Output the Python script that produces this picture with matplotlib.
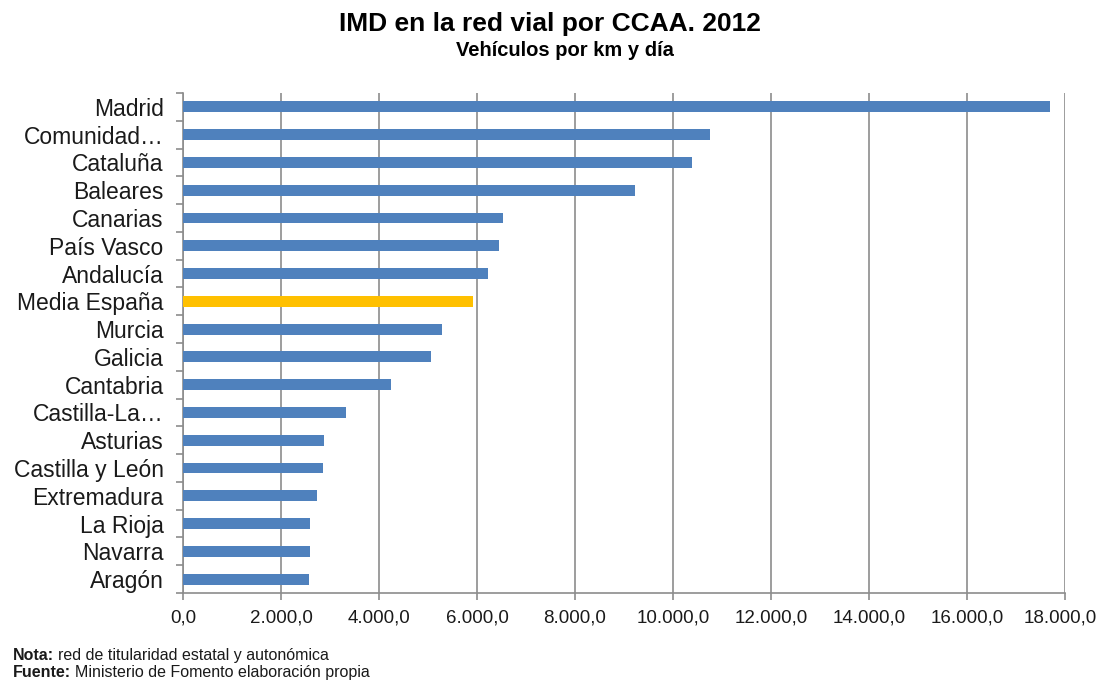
import matplotlib.pyplot as plt
import matplotlib.transforms as mtransforms
from matplotlib.ticker import FuncFormatter, FixedLocator

plt.rcParams['font.family'] = ['Liberation Sans', 'DejaVu Sans']

regiones = ["Madrid", "Comunidad…", "Cataluña", "Baleares", "Canarias",
            "País Vasco", "Andalucía", "Media España", "Murcia", "Galicia",
            "Cantabria", "Castilla-La…", "Asturias", "Castilla y León",
            "Extremadura", "La Rioja", "Navarra", "Aragón"]
imd = [17690, 10745, 10385, 9215, 6525, 6445, 6230, 5910, 5285, 5060,
       4235, 3330, 2885, 2852, 2742, 2598, 2598, 2565]

azul = "#4F81BD"
amarillo = "#FFC000"
gris = "#8C8C8C"

colores = [amarillo if r == "Media España" else azul for r in regiones]

fig = plt.figure(figsize=(10.99, 6.83), dpi=100)
ax = fig.add_axes([183 / 1099, 90 / 683, 882 / 1099, 500 / 683])

pos = list(range(len(regiones)))
ax.barh(pos, imd, height=0.39, color=colores, zorder=3)

ax.set_xlim(0, 18000)
ax.set_ylim(len(regiones) - 0.5, -0.5)

# rejilla vertical cada 2.000
ax.set_xticks(range(0, 18001, 2000))
ax.xaxis.set_major_formatter(FuncFormatter(
    lambda v, p: f"{v:,.1f}".replace(",", "X").replace(".", ",").replace("X", ".")))
ax.grid(axis="x", color=gris, linewidth=1.2, zorder=0)

ax.set_yticks(pos)
ax.set_yticklabels(regiones, fontsize=16.5, color="#1a1a1a")
ax.yaxis.set_minor_locator(FixedLocator([p - 0.5 for p in pos] + [len(pos) - 0.5]))
ax.tick_params(axis="y", which="major", length=0, pad=14)
ax.tick_params(axis="y", which="minor", length=5, width=1.2, color=gris)
ax.tick_params(axis="x", length=5, width=1.2, color=gris, labelsize=13.5,
               labelcolor="#1a1a1a", pad=7)

for lado in ["top", "right"]:
    ax.spines[lado].set_visible(False)
for lado in ["left", "bottom"]:
    ax.spines[lado].set_color(gris)
    ax.spines[lado].set_linewidth(1.2)

# la última etiqueta del eje x se pega al borde derecho
fig.canvas.draw()
ultima = ax.get_xticklabels()[-1]
ultima.set_horizontalalignment("right")
ultima.set_transform(ultima.get_transform() + mtransforms.ScaledTranslation(32 / 100, 0, fig.dpi_scale_trans))

fig.text(549.5 / 1099, 1 - 24 / 683, "IMD en la red vial por CCAA. 2012",
         ha="center", va="center", fontsize=19, fontweight="bold")
fig.text(565 / 1099, 1 - 50 / 683, "Vehículos por km y día",
         ha="center", va="center", fontsize=14.5, fontweight="bold")

# notas al pie: etiqueta en negrita seguida del texto normal
renderer = fig.canvas.get_renderer()
for y, etiqueta, texto in [(660, "Nota:", "red de titularidad estatal y autonómica"),
                           (677, "Fuente:", "Ministerio de Fomento elaboración propia")]:
    t = fig.text(13 / 1099, 1 - y / 683, etiqueta, ha="left", va="baseline",
                 fontsize=11.5, fontweight="bold", color="#1a1a1a")
    bb = t.get_window_extent(renderer)
    fig.text(bb.x1 / fig.bbox.width + 4 / 1099, 1 - y / 683, texto, ha="left",
             va="baseline", fontsize=11.5, color="#1a1a1a")

fig.savefig("out.png", dpi=100)
